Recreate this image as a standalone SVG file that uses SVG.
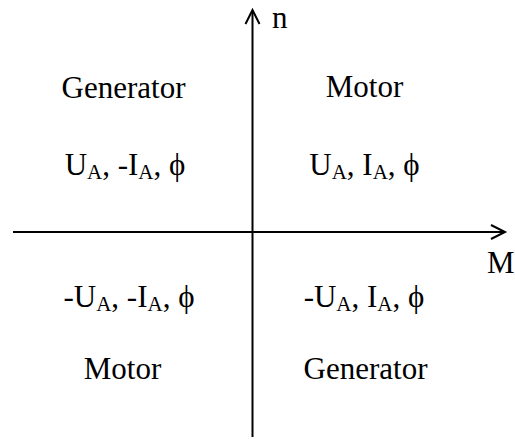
<svg xmlns="http://www.w3.org/2000/svg" width="515" height="439" viewBox="0 0 515 439">
<style>
text{font-family:"Liberation Serif","Times New Roman",serif;font-size:31px;fill:#000}
.c{text-anchor:middle}
.s{font-size:21px}
.ax{stroke:#000;stroke-width:2;fill:none}
</style>
<rect width="515" height="439" fill="#fff"/>
<g id="connectors">
<line class="ax" x1="13" y1="232" x2="504" y2="232"/>
<polyline class="ax" points="491,225 505,232 491,239"/>
<line class="ax" x1="252.5" y1="437" x2="252.5" y2="11"/>
<polyline class="ax" points="245.5,24 252.5,10 259.5,24"/>
</g>
<g id="axis-n"><text x="272" y="28">n</text></g>
<g id="axis-M"><text x="487" y="273">M</text></g>
<g id="q2">
<text class="c" x="123.5" y="98">Generator</text>
<text class="c" x="125" y="175">U<tspan class="s" dy="4">A</tspan><tspan dy="-4">, -I</tspan><tspan class="s" dy="4">A</tspan><tspan dy="-4">, ϕ</tspan></text>
</g>
<g id="q1">
<text class="c" x="364.5" y="97">Motor</text>
<text class="c" x="364.5" y="175">U<tspan class="s" dy="4">A</tspan><tspan dy="-4">, I</tspan><tspan class="s" dy="4">A</tspan><tspan dy="-4">, ϕ</tspan></text>
</g>
<g id="q3">
<text class="c" x="129" y="307">-U<tspan class="s" dy="4">A</tspan><tspan dy="-4">, -I</tspan><tspan class="s" dy="4">A</tspan><tspan dy="-4">, ϕ</tspan></text>
<text class="c" x="122.5" y="379">Motor</text>
</g>
<g id="q4">
<text class="c" x="364" y="307">-U<tspan class="s" dy="4">A</tspan><tspan dy="-4">, I</tspan><tspan class="s" dy="4">A</tspan><tspan dy="-4">, ϕ</tspan></text>
<text class="c" x="365.5" y="379">Generator</text>
</g>
</svg>
